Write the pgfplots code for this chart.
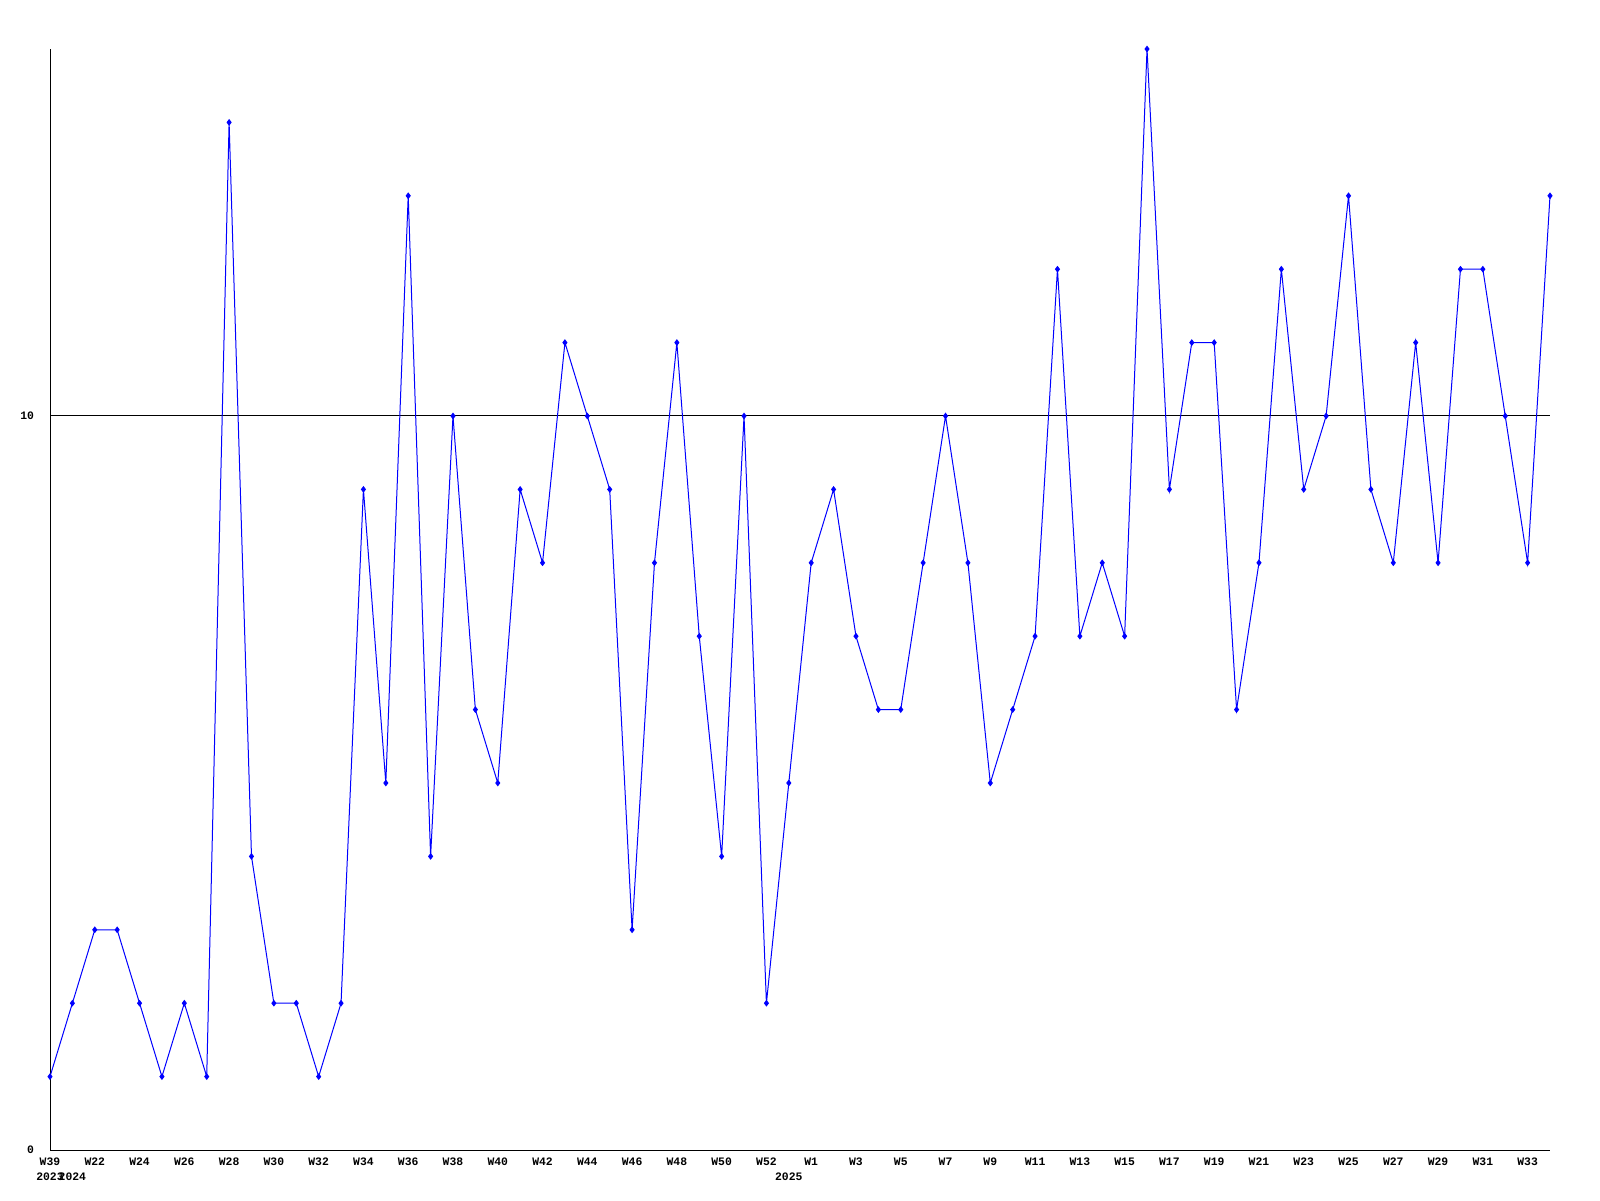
\documentclass[border=0pt]{standalone}
\usepackage{pgfplots}
\pgfplotsset{compat=1.18}
\usepackage{fontspec}
\newfontfamily\pix{Liberation Mono}
\begin{document}
\begin{tikzpicture}
\begin{axis}[
  at={(0,0)}, anchor=south west,
  scale only axis, width=750pt, height=550.5pt,
  xmin=0, xmax=67, ymin=0, ymax=15,
  axis x line=bottom, axis y line=left,
  axis line style={black, line width=0.5pt, -},
  clip=false,
  xtick={0,2,...,66},
  xticklabels={W39,W22,W24,W26,W28,W30,W32,W34,W36,W38,W40,W42,W44,W46,W48,W50,W52,W1,W3,W5,W7,W9,W11,W13,W15,W17,W19,W21,W23,W25,W27,W29,W31,W33},
  ytick={0,10},
  major tick length=0pt,
  tick style={draw=none},
  ticklabel style={font=\pix\bfseries\fontsize{5.7}{6}\selectfont},
  xticklabel style={anchor=north, yshift=-0.6pt},
  yticklabel style={anchor=east, xshift=-4.5pt},
  /pgf/number format/assume math mode=true,
]
\draw[black, line width=0.5pt] (axis cs:0,10) -- (axis cs:67,10);
\addplot[blue, line width=0.5pt, mark=diamond*, mark size=1.3pt] coordinates {
(0,1)(1,2)(2,3)(3,3)(4,2)(5,1)(6,2)(7,1)(8,14)(9,4)
(10,2)(11,2)(12,1)(13,2)(14,9)(15,5)(16,13)(17,4)(18,10)(19,6)
(20,5)(21,9)(22,8)(23,11)(24,10)(25,9)(26,3)(27,8)(28,11)(29,7)
(30,4)(31,10)(32,2)(33,5)(34,8)(35,9)(36,7)(37,6)(38,6)(39,8)
(40,10)(41,8)(42,5)(43,6)(44,7)(45,12)(46,7)(47,8)(48,7)(49,15)
(50,9)(51,11)(52,11)(53,6)(54,8)(55,12)(56,9)(57,10)(58,13)(59,9)
(60,8)(61,11)(62,8)(63,12)(64,12)(65,10)(66,8)(67,13)
};
\node[font=\pix\bfseries\fontsize{5.7}{6}\selectfont, anchor=north] at ([yshift=-8pt]axis cs:0,0) {2023};
\node[font=\pix\bfseries\fontsize{5.7}{6}\selectfont, anchor=north] at ([yshift=-8pt]axis cs:1,0) {2024};
\node[font=\pix\bfseries\fontsize{5.7}{6}\selectfont, anchor=north] at ([yshift=-8pt]axis cs:33,0) {2025};
\end{axis}
\path[use as bounding box] (-25pt,-25pt) rectangle (775pt,575pt);
\end{tikzpicture}
\end{document}
